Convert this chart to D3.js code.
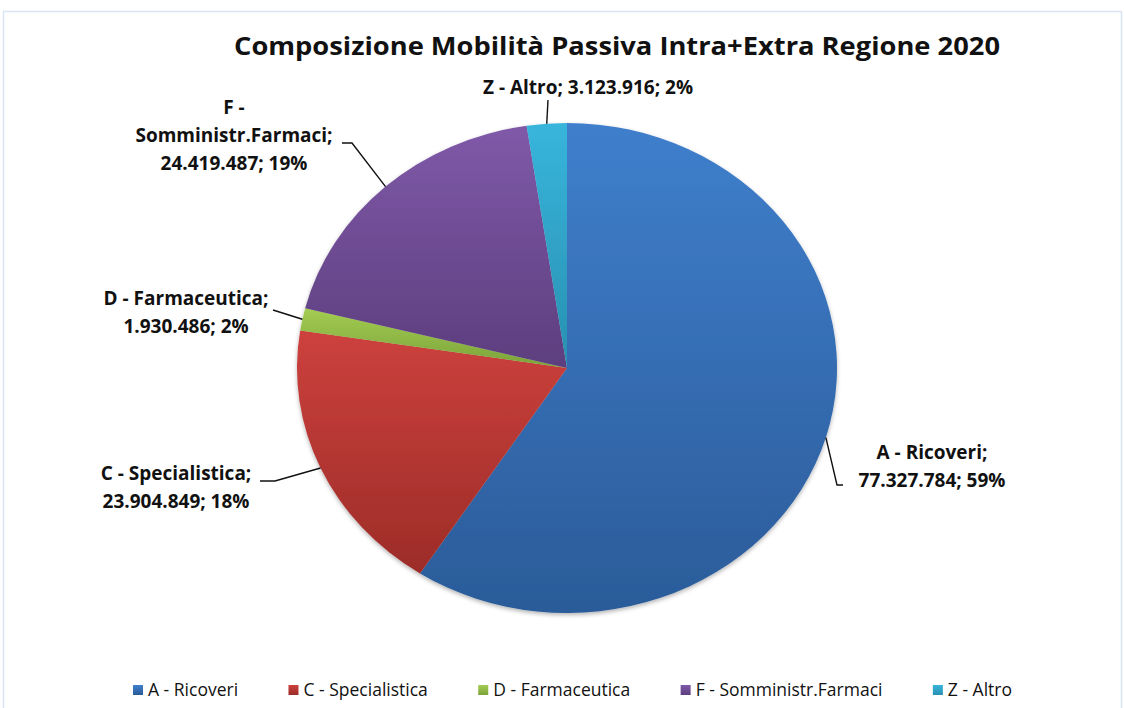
<!DOCTYPE html>
<html lang="it">
<head>
<meta charset="utf-8">
<title>Composizione Mobilità Passiva</title>
<script src="https://d3js.org/d3.v7.min.js"></script>
<style>
  body { margin: 0; background: #fff; }
  text { font-family: "Open Sans", "DejaVu Sans", sans-serif; fill: #111; }
</style>
</head>
<body>
<div id="chart"></div>
<script>
// data
var categories = ["A - Ricoveri", "C - Specialistica", "D - Farmaceutica", "F - Somministr.Farmaci", "Z - Altro"];
var values = [77327784, 23904849, 1930486, 24419487, 3123916];
var colorsTop = ["#3f7fcc", "#cd413d", "#a4cd52", "#8059a8", "#38b5dc"];
var colorsBottom = ["#2b5b99", "#9c2c28", "#7aa23a", "#5c3e7e", "#2890b0"];

var w = 1124, h = 708;
var cx = 567, cy = 368, rx = 270, ry = 245;

var svg = d3.select("#chart").append("svg")
    .attr("width", w).attr("height", h);

// outer frame
svg.append("rect")
    .attr("x", 3.5).attr("y", 11.5)
    .attr("width", 1118).attr("height", 710)
    .attr("fill", "none").attr("stroke", "#d9e5f2").attr("stroke-width", 1.5);

// title
svg.append("text")
    .attr("x", 617).attr("y", 55)
    .attr("text-anchor", "middle")
    .attr("font-size", "25px").attr("font-weight", "bold")
    .attr("textLength", 766).attr("lengthAdjust", "spacingAndGlyphs")
    .text("Composizione Mobilità Passiva Intra+Extra Regione 2020");

var defs = svg.append("defs");
categories.forEach(function(c, i) {
    var g = defs.append("linearGradient")
        .attr("id", "grad" + i)
        .attr("x1", 0).attr("y1", 0).attr("x2", 0).attr("y2", 1);
    g.append("stop").attr("offset", "0%").attr("stop-color", colorsTop[i]);
    g.append("stop").attr("offset", "100%").attr("stop-color", colorsBottom[i]);
});
var shadow = defs.append("filter").attr("id", "shadow")
    .attr("x", "-10%").attr("y", "-10%").attr("width", "120%").attr("height", "120%");
shadow.append("feDropShadow")
    .attr("dx", 0).attr("dy", 2).attr("stdDeviation", 2)
    .attr("flood-color", "#000").attr("flood-opacity", 0.3);

var total = d3.sum(values);

// percentages rounded so that they sum to 100 (like Excel labels)
var raw = values.map(v => v / total * 100);
var pcts = raw.map(Math.floor);
var left = 100 - d3.sum(pcts);
d3.range(values.length)
    .sort((a, b) => (raw[b] - pcts[b]) - (raw[a] - pcts[a]))
    .slice(0, left)
    .forEach(i => pcts[i] += 1);

var it = d3.formatLocale({ decimal: ",", thousands: ".", grouping: [3], currency: ["€", ""] });
var fmt = it.format(",d");

var pie = d3.pie().sort(null).value(d => d)(values);
var arc = d3.arc().innerRadius(0).outerRadius(ry);

// the pie is drawn as an ellipse (stretched horizontally)
var pg = svg.append("g")
    .attr("transform", `translate(${cx},${cy}) scale(${rx / ry},1)`)
    .attr("filter", "url(#shadow)");
pg.selectAll("path")
    .data(pie)
    .join("path")
    .attr("d", arc)
    .attr("fill", (d, i) => `url(#grad${i})`);

// label layout: text centre x, first baseline, and elbow points of the leader line
var labelLayout = [
    { x: 932, y: 459, pts: [[837, 485], [843, 485]] },
    { x: 176, y: 480, pts: [[275, 481], [260, 481]] },
    { x: 186, y: 305, pts: [[273, 310]] },
    { x: 234, y: 114, pts: [[352, 143], [342, 143]] },
    { x: 588, y: 94, pts: [[548, 100]] }
];
var lineH = 28;

pie.forEach(function(d, i) {
    var a = (d.startAngle + d.endAngle) / 2;
    var edge = [cx + rx * Math.sin(a), cy - ry * Math.cos(a)];
    var L = labelLayout[i];
    svg.append("path")
        .attr("d", d3.line()([edge].concat(L.pts)))
        .attr("fill", "none").attr("stroke", "#111").attr("stroke-width", 1.4);

    var name = categories[i];
    var rest = fmt(values[i]) + "; " + pcts[i] + "%";
    var lines;
    if (i === 4) lines = [name + "; " + rest];
    else if (i === 3) {
        var p = name.split(" - ");
        lines = [p[0] + " -", p[1] + ";", rest];
    } else lines = [name + ";", rest];

    var t = svg.append("text")
        .attr("text-anchor", "middle")
        .attr("font-size", "19px").attr("font-weight", "bold");
    lines.forEach(function(s, k) {
        t.append("tspan").attr("x", L.x).attr("y", L.y + k * lineH).text(s);
    });
});

// legend, spread between x=133 and x=1012
var lg = svg.append("g").attr("transform", "translate(0,690)");
var items = lg.selectAll("g").data(categories).join("g");
items.append("rect")
    .attr("y", -5).attr("width", 10).attr("height", 10)
    .attr("fill", (d, i) => `url(#grad${i})`);
items.append("text")
    .attr("x", 15).attr("y", 6)
    .attr("font-size", "17.5px")
    .text(d => d);
var widths = [];
items.each(function() {
    widths.push(15 + d3.select(this).select("text").node().getComputedTextLength());
});
var gap = (1012 - 133 - d3.sum(widths)) / (widths.length - 1);
var xpos = 133, offs = [];
widths.forEach(function(wd) { offs.push(xpos); xpos += wd + gap; });
items.attr("transform", (d, i) => `translate(${offs[i]},0)`);
</script>
</body>
</html>
